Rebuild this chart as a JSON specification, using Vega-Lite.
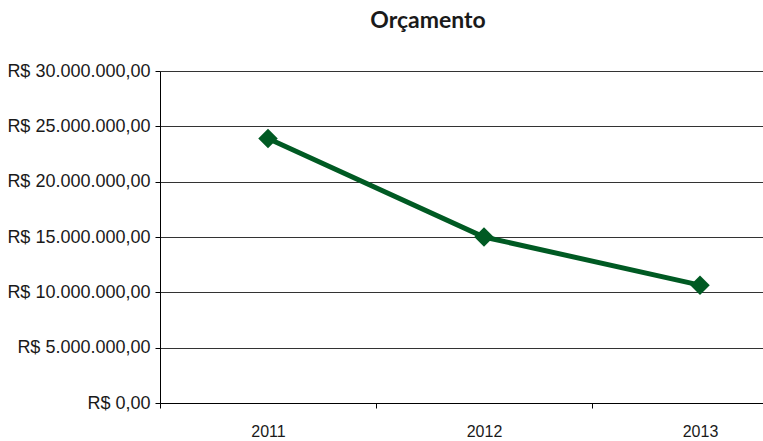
{
  "$schema": "https://vega.github.io/schema/vega-lite/v6.json",
  "autosize": {"type": "none"},
  "padding": {"left": 160, "top": 71, "right": 0, "bottom": 38},
  "width": 648,
  "height": 332,
  "background": "white",
  "config": {
    "view": {"stroke": null},
    "locale": {"number": {"decimal": ",", "thousands": ".", "grouping": [3], "currency": ["R$ ", ""]}}
  },
  "title": {
    "text": "Orçamento",
    "font": "Lato",
    "fontSize": 23,
    "fontWeight": "bold",
    "color": "#1a1a1a",
    "anchor": "middle",
    "dx": -56,
    "offset": 29
  },
  "data": {
    "values": [
      {"ano": "2011", "valor": 23900000},
      {"ano": "2012", "valor": 15000000},
      {"ano": "2013", "valor": 10650000}
    ]
  },
  "encoding": {
    "x": {
      "field": "ano", "type": "nominal",
      "scale": {"paddingInner": 0, "paddingOuter": 0},
      "axis": {
        "title": null, "labelAngle": 0, "labelFont": "Liberation Sans", "labelFontSize": 16,
        "labelColor": "#1a1a1a", "domainColor": "#000", "tickColor": "#000", "tickBand": "extent",
        "tickSize": 5, "labelPadding": 15, "grid": false
      }
    },
    "y": {
      "field": "valor", "type": "quantitative",
      "scale": {"domain": [0, 30000000]},
      "axis": {
        "title": null, "format": "$,.2f", "values": [0, 5000000, 10000000, 15000000, 20000000, 25000000, 30000000],
        "labelOverlap": false,
        "labelFont": "Liberation Sans", "labelFontSize": 18, "labelColor": "#1a1a1a",
        "domainColor": "#000", "tickColor": "#000", "tickSize": 5, "labelPadding": 5,
        "gridColor": "#333", "gridWidth": 1, "gridOpacity": 1
      }
    }
  },
  "layer": [
    {"mark": {"type": "line", "color": "#005a23", "strokeWidth": 5}},
    {"mark": {"type": "point", "shape": "diamond", "filled": true, "size": 380, "color": "#005a23", "opacity": 1}}
  ]
}
